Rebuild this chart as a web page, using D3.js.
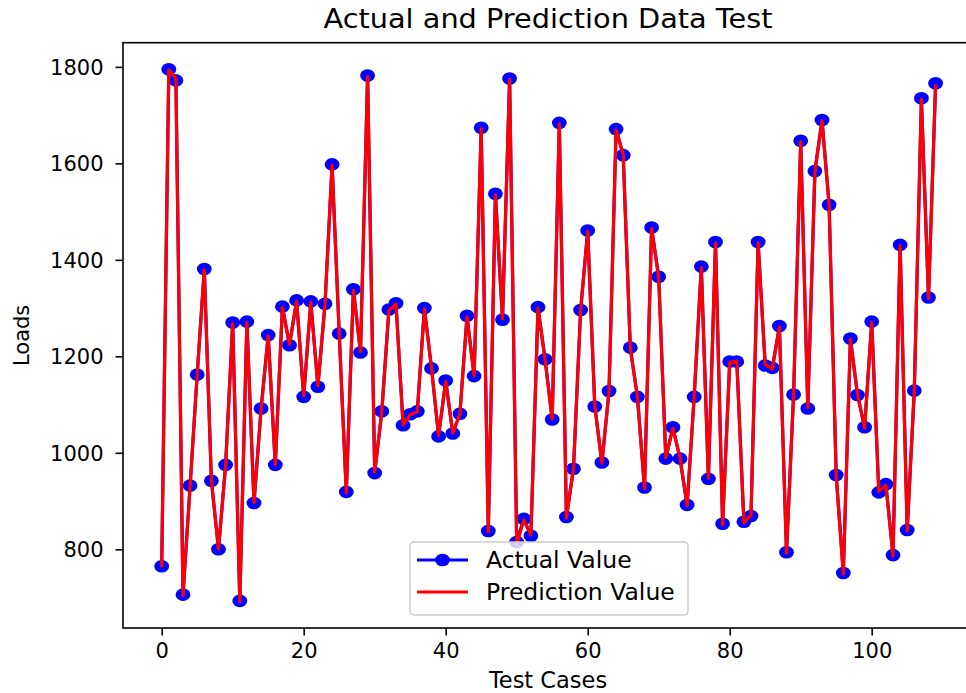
<!DOCTYPE html>
<html>
<head>
<meta charset="utf-8">
<script src="https://cdn.jsdelivr.net/npm/d3@7"></script>
<style>
  html, body { margin: 0; padding: 0; background: #fff; }
  svg { display: block; }
  text { font-family: "DejaVu Sans", sans-serif; fill: #000; }
</style>
</head>
<body>
<svg id="chart" width="966" height="693"></svg>
<script>
const chartTitle = "Actual and Prediction Data Test";
const xLabel = "Test Cases";
const yLabel = "Loads";
const seriesNames = ["Actual Value", "Prediction Value"];
const xTicks = [0, 20, 40, 60, 80, 100];
const yTicks = [800, 1000, 1200, 1400, 1600, 1800];

const actual = [765, 1795, 1772, 706, 932, 1162, 1381, 942, 800, 975,
  1270, 693, 1272, 896, 1092, 1244, 975, 1303, 1223, 1316,
  1116, 1314, 1137, 1309, 1598, 1247, 919, 1339, 1208, 1782,
  958, 1086, 1297, 1310, 1057, 1080, 1086, 1300, 1175, 1034,
  1150, 1040, 1081, 1284, 1159, 1674, 838, 1537, 1276, 1776,
  815, 863, 828, 1302, 1194, 1069, 1684, 867, 967, 1296,
  1461, 1096, 980, 1128, 1671, 1617, 1218, 1116, 928, 1467,
  1365, 988, 1053, 988, 892, 1116, 1386, 946, 1437, 853,
  1189, 1189, 857, 869, 1437, 1181, 1176, 1263, 794, 1121,
  1647, 1092, 1584, 1690, 1514, 954, 751, 1237, 1120, 1053,
  1272, 918, 935, 788, 1431, 840, 1129, 1735, 1322, 1766];

const prediction = [763, 1794, 1776, 704, 930, 1163, 1379, 943, 801, 973,
  1268, 692, 1270, 897, 1090, 1242, 976, 1301, 1225, 1314,
  1118, 1312, 1139, 1307, 1596, 1249, 917, 1337, 1210, 1780,
  960, 1085, 1295, 1308, 1058, 1079, 1085, 1298, 1176, 1036,
  1148, 1041, 1080, 1282, 1160, 1672, 836, 1535, 1278, 1774,
  810, 861, 830, 1300, 1192, 1070, 1682, 865, 968, 1294,
  1459, 1098, 978, 1126, 1669, 1619, 1216, 1118, 926, 1465,
  1363, 990, 1051, 990, 890, 1118, 1384, 948, 1435, 851,
  1187, 1190, 855, 871, 1435, 1183, 1174, 1261, 792, 1123,
  1645, 1094, 1582, 1688, 1516, 952, 749, 1235, 1122, 1051,
  1270, 920, 933, 786, 1429, 838, 1131, 1733, 1320, 1764];

const idx = actual.map((_, i) => i);

const svg = d3.select("#chart");
const W = 966, H = 693;
svg.append("rect").attr("width", W).attr("height", H).attr("fill", "#fff");

const plot = { left: 123, right: 974.3, top: 42.7, bottom: 628 };

const xMin = 0, xMax = idx.length - 1;
const xPad = (xMax - xMin) * 0.05;
const x = d3.scaleLinear().domain([xMin - xPad, xMax + xPad]).range([plot.left, plot.right]);

const allVals = actual.concat(prediction);
const yMin = d3.min(allVals), yMax = d3.max(allVals);
const yPad = (yMax - yMin) * 0.05;
const y = d3.scaleLinear().domain([yMin - yPad, yMax + yPad]).range([plot.bottom, plot.top]);

const lw = 3.2;
const blue = "#0000ff", red = "#ff0000";
const mrx = 7.4, mry = 6.3;

// Actual: line + markers
const line = d3.line().x((d, i) => x(i)).y(d => y(d));
svg.append("path").datum(actual)
  .attr("d", line).attr("fill", "none").attr("stroke", blue)
  .attr("stroke-width", lw).attr("stroke-linejoin", "round");
svg.append("g").selectAll("ellipse").data(actual).join("ellipse")
  .attr("cx", (d, i) => x(i)).attr("cy", d => y(d))
  .attr("rx", mrx).attr("ry", mry).attr("fill", blue);

// Prediction line
svg.append("path").datum(prediction)
  .attr("d", line).attr("fill", "none").attr("stroke", red)
  .attr("stroke-width", lw).attr("stroke-linejoin", "round");

// Frame
svg.append("rect")
  .attr("x", plot.left).attr("y", plot.top)
  .attr("width", plot.right - plot.left).attr("height", plot.bottom - plot.top)
  .attr("fill", "none").attr("stroke", "#000").attr("stroke-width", 1.6);

const tickFont = 21;
// X axis
const gx = svg.append("g").attr("transform", `translate(0,${plot.bottom})`)
  .call(d3.axisBottom(x).tickValues(xTicks).tickFormat(d3.format("d"))
    .tickSize(7.5).tickSizeOuter(0).tickPadding(7));
gx.select(".domain").remove();
gx.selectAll(".tick line").attr("stroke", "#000").attr("stroke-width", 1.6);
gx.selectAll(".tick text").attr("font-size", tickFont).attr("font-family", "DejaVu Sans")
  .attr("fill", "#000").attr("dy", null).attr("y", 30);

// Y axis
const gy = svg.append("g").attr("transform", `translate(${plot.left},0)`)
  .call(d3.axisLeft(y).tickValues(yTicks).tickFormat(d3.format("d"))
    .tickSize(7.5).tickSizeOuter(0).tickPadding(12));
gy.select(".domain").remove();
gy.selectAll(".tick line").attr("stroke", "#000").attr("stroke-width", 1.6);
gy.selectAll(".tick text").attr("font-size", tickFont).attr("font-family", "DejaVu Sans")
  .attr("fill", "#000").attr("dy", "0.36em");

// Title
svg.append("text").attr("x", 548).attr("y", 28)
  .attr("text-anchor", "middle").attr("font-size", 26)
  .attr("textLength", 449).attr("lengthAdjust", "spacingAndGlyphs").text(chartTitle);

// Axis labels
svg.append("text").attr("x", 548).attr("y", 688)
  .attr("text-anchor", "middle").attr("font-size", 22.5).text(xLabel);
svg.append("text")
  .attr("transform", `translate(29,${(plot.top + plot.bottom) / 2}) rotate(-90)`)
  .attr("text-anchor", "middle").attr("font-size", 21).text(yLabel);

// Legend
const lg = svg.append("g");
lg.append("rect").attr("x", 410).attr("y", 542).attr("width", 278).attr("height", 73)
  .attr("rx", 4).attr("fill", "#fff").attr("fill-opacity", 0.8)
  .attr("stroke", "#cccccc").attr("stroke-width", 1.5);
const rows = [
  { name: seriesNames[0], color: blue, marker: true, y: 560 },
  { name: seriesNames[1], color: red, marker: false, y: 592 }
];
rows.forEach(r => {
  lg.append("line").attr("x1", 417).attr("x2", 468).attr("y1", r.y).attr("y2", r.y)
    .attr("stroke", r.color).attr("stroke-width", lw);
  if (r.marker) lg.append("ellipse").attr("cx", 442.5).attr("cy", r.y)
    .attr("rx", mrx).attr("ry", mry).attr("fill", r.color);
  lg.append("text").attr("x", 486).attr("y", r.y).attr("dy", "0.36em")
    .attr("font-size", 23.5).text(r.name);
});
</script>
</body>
</html>
